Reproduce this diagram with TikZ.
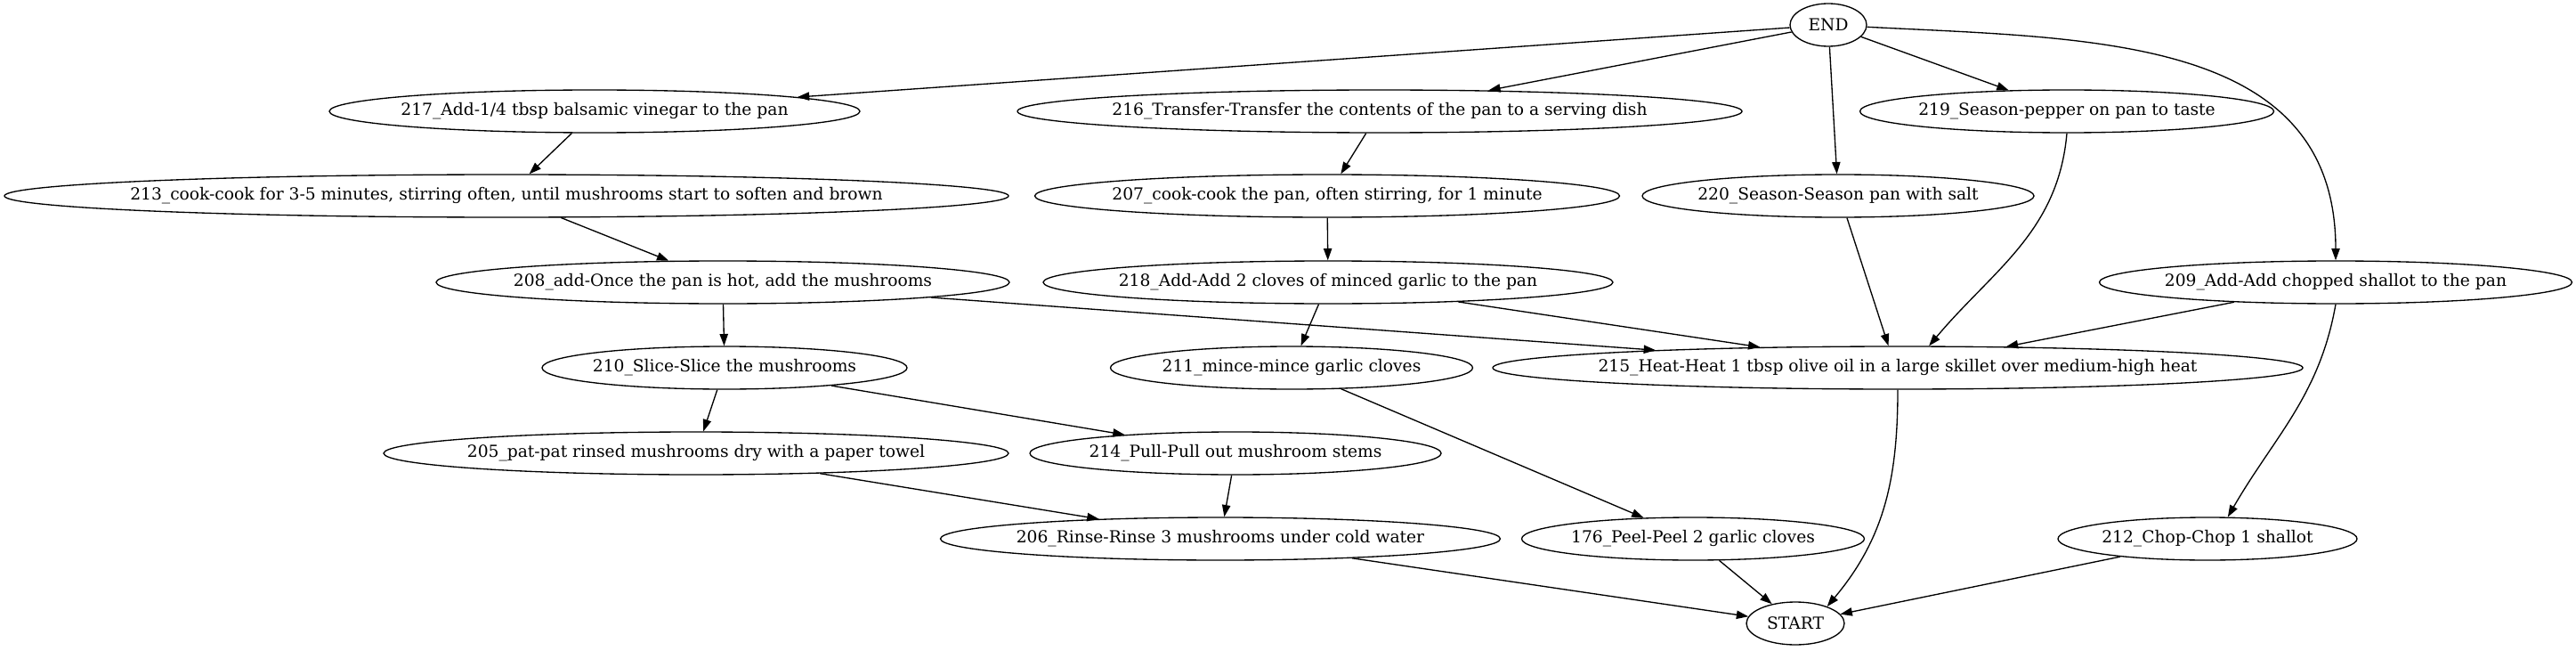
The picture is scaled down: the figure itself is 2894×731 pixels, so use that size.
\documentclass[tikz,border=0pt]{standalone}
\usepackage{fontspec}
\setmainfont{DejaVu Serif}
\usepackage{tikz}
\usetikzlibrary{arrows.meta,shapes.geometric}
\tikzset{
  task node/.style={ellipse,draw=black,line width=1pt,inner xsep=-400pt,inner ysep=0pt,minimum height=36pt,font=\fontsize{14pt}{17pt}\selectfont,text=black},
  task width/.style={minimum width=#1*0.75pt},
  flow arrow/.style={-{Triangle[length=10pt,width=7pt]},line width=1pt,draw=black}
}
\begin{document}
\begin{tikzpicture}[x=0.75pt,y=-0.75pt]
  \useasboundingbox (0,0) rectangle (2894,731);
  \node[task node,task width=86] (end) at (2054,28) {END};
  \node[task node,task width=596] (n217) at (668,125) {217\_Add-1/4 tbsp balsamic vinegar to the pan};
  \node[task node,task width=814] (n216) at (1550,125) {216\_Transfer-Transfer the contents of the pan to a serving dish};
  \node[task node,task width=465] (n219) at (2322,125) {219\_Season-pepper on pan to taste};
  \node[task node,task width=1128] (n213) at (569,220) {213\_cook-cook for 3-5 minutes, stirring often, until mushrooms start to soften and brown};
  \node[task node,task width=657] (n207) at (1491,220) {207\_cook-cook the pan, often stirring, for 1 minute};
  \node[task node,task width=440] (n220) at (2065,220) {220\_Season-Season pan with salt};
  \node[task node,task width=644] (n208) at (812,317) {208\_add-Once the pan is hot, add the mushrooms};
  \node[task node,task width=640] (n218) at (1492,317) {218\_Add-Add 2 cloves of minced garlic to the pan};
  \node[task node,task width=531] (n209) at (2624,317) {209\_Add-Add chopped shallot to the pan};
  \node[task node,task width=410] (n210) at (814,413) {210\_Slice-Slice the mushrooms};
  \node[task node,task width=407] (n211) at (1451,413) {211\_mince-mince garlic cloves};
  \node[task node,task width=910] (n215) at (2132,413) {215\_Heat-Heat 1 tbsp olive oil in a large skillet over medium-high heat};
  \node[task node,task width=702] (n205) at (782,509) {205\_pat-pat rinsed mushrooms dry with a paper towel};
  \node[task node,task width=462] (n214) at (1388,509) {214\_Pull-Pull out mushroom stems};
  \node[task node,task width=629] (n206) at (1371,605) {206\_Rinse-Rinse 3 mushrooms under cold water};
  \node[task node,task width=385] (n176) at (1902,605) {176\_Peel-Peel 2 garlic cloves};
  \node[task node,task width=336] (n212) at (2480,605) {212\_Chop-Chop 1 shallot};
  \node[task node,task width=110] (start) at (2017,700) {START};

  \draw[flow arrow] (end) -- (n217);
  \draw[flow arrow] (end) -- (n216);
  \draw[flow arrow] (end) -- (n220);
  \draw[flow arrow] (end) -- (n219);
  \draw[flow arrow] (end) to[out=-3,in=90,looseness=1.1] (n209);
  \draw[flow arrow] (n217) -- (n213);
  \draw[flow arrow] (n216) -- (n207);
  \draw[flow arrow] (n213) -- (n208);
  \draw[flow arrow] (n207) -- (n218);
  \draw[flow arrow] (n208) -- (n210);
  \draw[flow arrow] (n208) -- (n215);
  \draw[flow arrow] (n218) -- (n211);
  \draw[flow arrow] (n218) -- (n215);
  \draw[flow arrow] (n220.-68) -- (n215.113);
  \draw[flow arrow] (n219.south) to[out=-95,in=50] (n215.35);
  \draw[flow arrow] (n209) -- (n215);
  \draw[flow arrow] (n209.south) to[out=-100,in=60] (n212.47);
  \draw[flow arrow] (n210) -- (n205);
  \draw[flow arrow] (n210) -- (n214);
  \draw[flow arrow] (n211) -- (n176);
  \draw[flow arrow] (n215.south) to[out=-90,in=50] (start.28);
  \draw[flow arrow] (n205) -- (n206);
  \draw[flow arrow] (n214) -- (n206);
  \draw[flow arrow] (n206) -- (start);
  \draw[flow arrow] (n176) -- (start);
  \draw[flow arrow] (n212) -- (start);
\end{tikzpicture}
\end{document}
